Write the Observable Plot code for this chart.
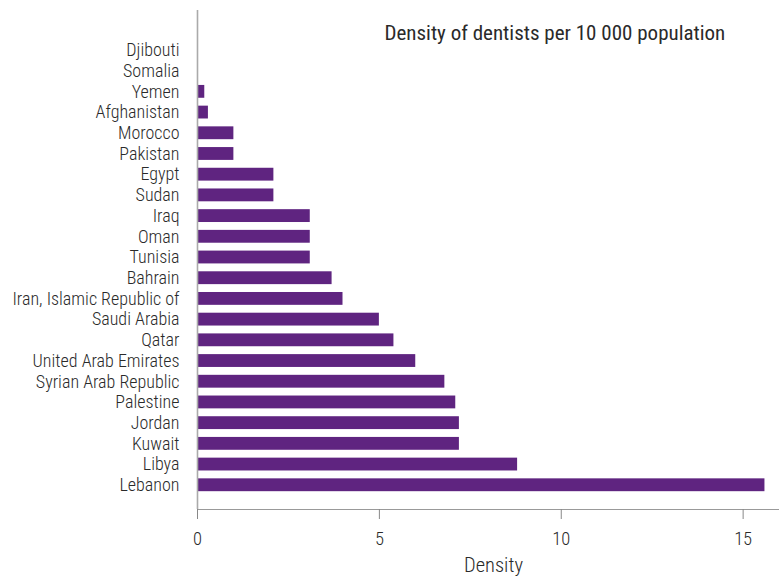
<!DOCTYPE html>
<html>
<head>
<meta charset="utf-8">
<script src="https://cdn.jsdelivr.net/npm/d3@7"></script>
<script src="https://cdn.jsdelivr.net/npm/@observablehq/plot@0.6"></script>
<style>
  html, body { margin: 0; padding: 0; background: #fff; }
  #chart svg { font-family: "Roboto Condensed", "Liberation Sans Narrow", "DejaVu Sans Condensed", sans-serif; }
</style>
</head>
<body>
<div id="chart"></div>
<script>
const countries = ["Djibouti","Somalia","Yemen","Afghanistan","Morocco","Pakistan","Egypt","Sudan","Iraq","Oman","Tunisia","Bahrain","Iran, Islamic Republic of","Saudi Arabia","Qatar","United Arab Emirates","Syrian Arab Republic","Palestine","Jordan","Kuwait","Libya","Lebanon"];
const density = [0, 0, 0.2, 0.3, 1.0, 1.0, 2.1, 2.1, 3.1, 3.1, 3.1, 3.7, 4.0, 5.0, 5.4, 6.0, 6.8, 7.1, 7.2, 7.2, 8.8, 15.6];
const xTicks = [0, 5, 10, 15];
const title = "Density of dentists per 10 000 population";
const xLabel = "Density";

const data = countries.map((c, i) => ({country: c, value: density[i]}));

// bottom axis line drawn from the plot's own dimensions
const baseline = (index, scales, values, dim) => {
  const g = d3.create("svg:line")
    .attr("x1", dim.marginLeft)
    .attr("x2", dim.width - dim.marginRight)
    .attr("y1", dim.height - dim.marginBottom + 0.5)
    .attr("y2", dim.height - dim.marginBottom + 0.5)
    .attr("stroke", "#999")
    .attr("stroke-width", 1.2);
  return g.node();
};

const chart = Plot.plot({
  width: 779,
  height: 577,
  marginLeft: 197,
  marginRight: 0,
  marginTop: 10,
  marginBottom: 68,
  style: {fontSize: "18px", color: "#333", background: "#fff"},
  x: {domain: [0, 16], ticks: xTicks, label: null},
  y: {domain: countries, paddingInner: 0.38, paddingOuter: 1.24, align: 0.653, round: false, label: null},
  marks: [
    Plot.barX(data, {x: "value", y: "country", fill: "#5f2480"}),
    Plot.ruleX([0], {stroke: "#aaa", strokeWidth: 1.6}),
    baseline,
    Plot.axisX({ticks: xTicks, tickSize: 10, tickPadding: 12, stroke: "#888", fontSize: 18.5, fontWeight: 300, fill: "#2a2a2a", label: null}),
    Plot.axisY({tickSize: 0, tickPadding: 18, fontSize: 18, fontWeight: 300, fill: "#2a2a2a", label: null}),
    Plot.text([xLabel], {frameAnchor: "bottom", lineAnchor: "middle", dx: 5, dy: 56, fontSize: 20.5, fontWeight: 300, fill: "#2a2a2a"}),
    Plot.text([title], {frameAnchor: "top-left", lineAnchor: "middle", dx: 187, dy: 23, textAnchor: "start", fontSize: 21, fontWeight: 400, fill: "#2a2a2a"})
  ]
});
document.getElementById("chart").appendChild(chart);
</script>
</body>
</html>
